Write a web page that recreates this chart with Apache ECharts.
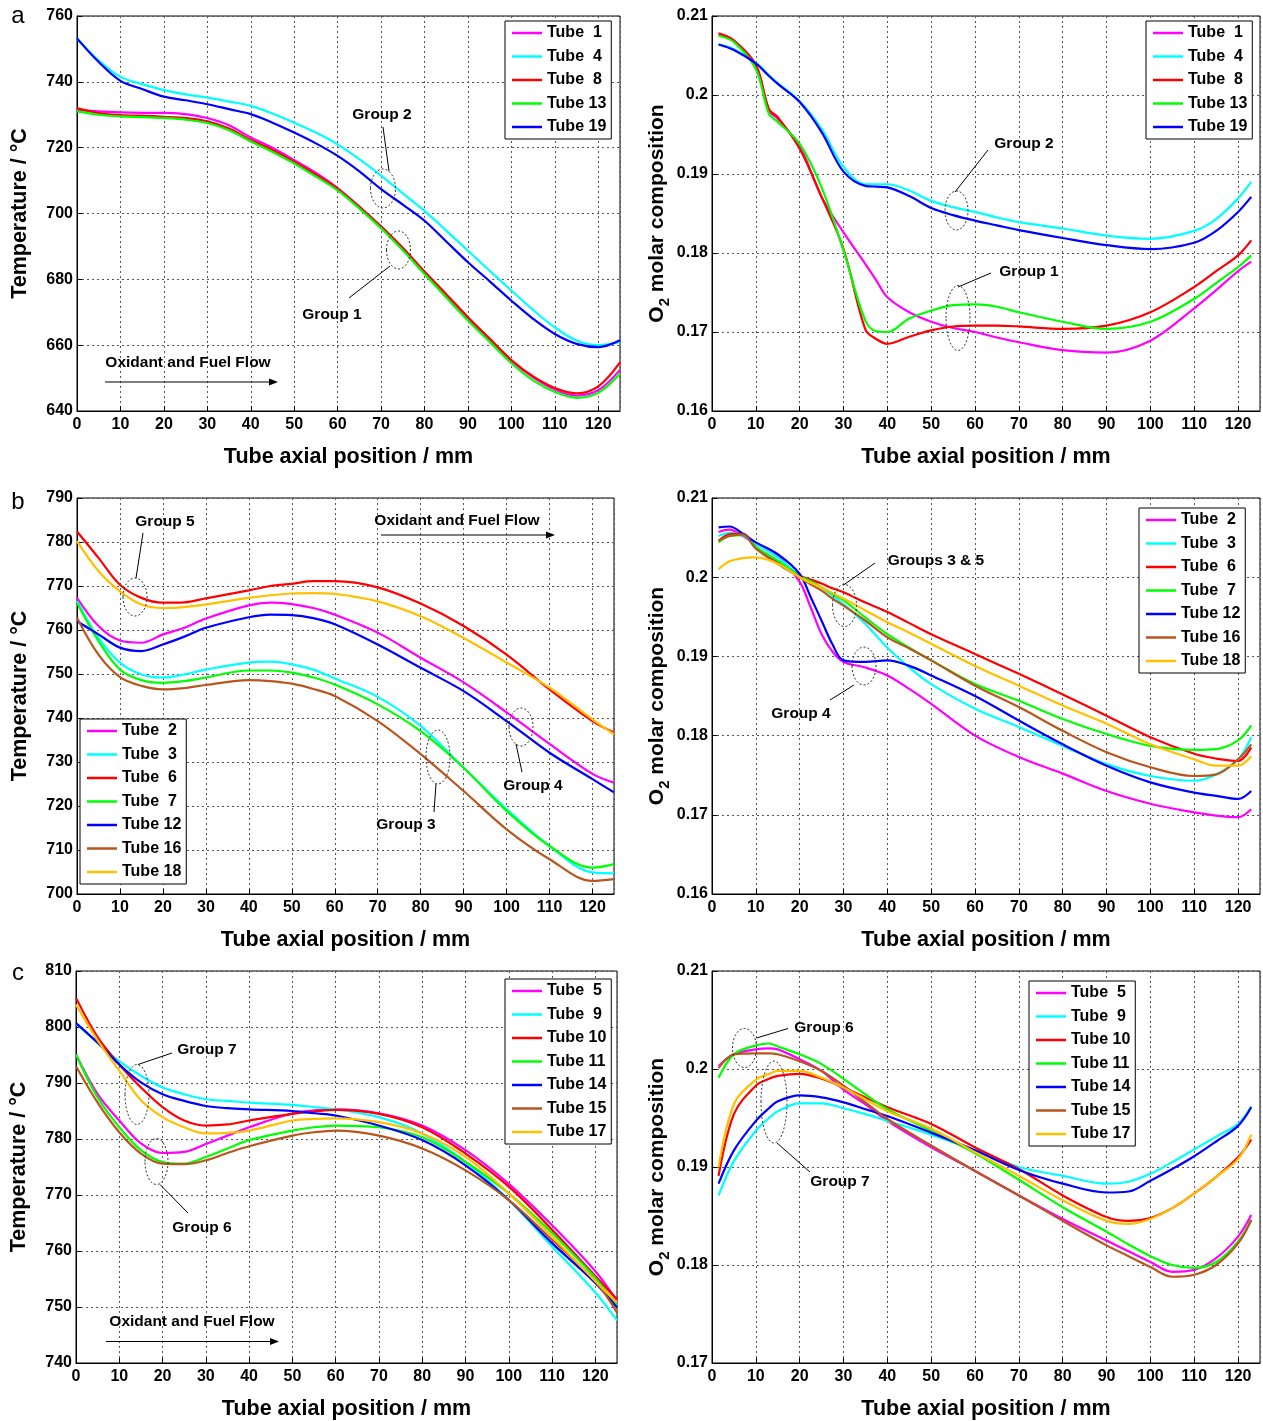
<!DOCTYPE html>
<html>
<head>
<meta charset="utf-8">
<script src="https://cdn.jsdelivr.net/npm/echarts@6/dist/echarts.min.js"></script>
<style>
  html, body { margin: 0; padding: 0; background: #fff; }
  #chart { width: 1263px; height: 1421px; }
</style>
</head>
<body>
<div id="chart"></div>
<script>
// ---- 数据 ----

// (a) 温度
const aTempX = [0, 5, 10, 15, 20, 25, 30, 35, 40, 45, 50, 55, 60, 65, 70, 75, 80, 85, 90, 95, 100, 105, 110, 115, 120, 125];
const aNames = ['Tube  1', 'Tube  4', 'Tube  8', 'Tube 13', 'Tube 19'];
const aColors = ['#ff00ff', '#00ffff', '#ff0000', '#00ff00', '#0000ff'];
const aTemp = [
  [731.5, 731, 730.7, 730.6, 730.6, 730.2, 729, 726.8, 723.1, 720, 716.2, 712.3, 707.7, 702, 696, 689.5, 682.3, 675.2, 668.2, 661.6, 655.2, 650.2, 646.5, 644.7, 646.3, 652.5],
  [753.2, 746.5, 741.5, 739.3, 737.5, 736.2, 735.2, 734, 732.7, 730.4, 727.6, 724.6, 721, 716.5, 711.5, 706.1, 700.8, 694.8, 688.7, 682.6, 676.6, 670.7, 665.4, 661.4, 660, 661],
  [732, 730.5, 729.9, 729.7, 729.4, 729, 728, 725.8, 722.3, 719.3, 715.7, 711.8, 707.5, 702, 696, 689.5, 682.3, 675.5, 668.5, 662, 655.5, 650.5, 647, 645.4, 647.5, 654.8],
  [731, 730, 729.5, 729.3, 729, 728.5, 727.5, 725.3, 721.9, 718.7, 715.2, 711.2, 707, 701.5, 695.5, 688.8, 681.6, 674.5, 667.5, 661, 654.5, 649.3, 645.8, 644, 645.5, 651.3],
  [753.2, 746, 740.3, 737.8, 735.5, 734.4, 733.2, 731.7, 730.2, 727.6, 724.6, 721.3, 717.5, 712.8, 707.4, 702.7, 697.8, 691.5, 685.2, 679.4, 673.5, 668, 663.4, 660.4, 659.4, 661.5]
];

// (a) O2
const aO2X = [1.5, 5, 10, 13, 15, 20, 25, 30, 35, 37.5, 40, 45, 50, 55, 60, 65, 70, 80, 90, 100, 110, 115, 120, 123];
const aO2 = [
  [0.2077, 0.2069, 0.2038, 0.198, 0.197, 0.1935, 0.1871, 0.1826, 0.1786, 0.1765, 0.1744, 0.1725, 0.1713, 0.1705, 0.17, 0.1693, 0.1687, 0.1677, 0.1674, 0.1689, 0.173, 0.1753, 0.1777, 0.1789],
  [0.2064, 0.2058, 0.2041, 0.2025, 0.2015, 0.1992, 0.1957, 0.1909, 0.1887, 0.1887, 0.1887, 0.1879, 0.1866, 0.1858, 0.1852, 0.1845, 0.1839, 0.1831, 0.1822, 0.1818, 0.1828, 0.1843, 0.1869, 0.189],
  [0.2078, 0.2069, 0.2038, 0.1982, 0.1972, 0.1932, 0.1871, 0.1805, 0.1703, 0.1691, 0.1685, 0.1694, 0.1702, 0.1707, 0.1708, 0.1708, 0.1707, 0.1704, 0.1708, 0.1725, 0.1757, 0.1777, 0.1797, 0.1816],
  [0.2075, 0.2067, 0.2033, 0.1976, 0.1966, 0.1938, 0.1883, 0.1803, 0.1714, 0.1701, 0.17, 0.1717, 0.1727, 0.1734, 0.1735, 0.1732, 0.1725, 0.1713, 0.1704, 0.1713, 0.1742, 0.1762, 0.1782, 0.1797],
  [0.2064, 0.2057, 0.204, 0.2024, 0.2014, 0.1991, 0.1953, 0.1903, 0.1885, 0.1884, 0.1883, 0.1872, 0.1857, 0.1848, 0.1841, 0.1835, 0.1829, 0.1819, 0.181, 0.1805, 0.1813, 0.1828, 0.1852, 0.1871]
];

// (b) 温度
const bTempX = [0, 5, 10, 15, 20, 25, 30, 40, 45, 50, 55, 60, 70, 80, 90, 100, 110, 120, 125];
const bNames = ['Tube  2', 'Tube  3', 'Tube  6', 'Tube  7', 'Tube 12', 'Tube 16', 'Tube 18'];
const bColors = ['#ff00ff', '#00ffff', '#ff0000', '#00ff00', '#0000ff', '#b8561e', '#ffc000'];
const bTemp = [
  [767.3, 760.9, 757.6, 757.1, 759, 760.5, 762.6, 765.6, 766.2, 765.9, 765, 763.5, 759.4, 753.7, 748.1, 741.3, 734.1, 727.3, 725.3],
  [766.6, 758.2, 752.6, 749.9, 749.2, 749.9, 751, 752.6, 752.8, 752.2, 751, 749, 744.8, 738.2, 728.7, 719.3, 710.9, 704.9, 704.7],
  [782.4, 776.4, 770.3, 767.3, 766.2, 766.3, 767.2, 769, 770, 770.5, 771.1, 771.1, 769.7, 766, 760.9, 754.4, 746.5, 739.3, 736.7],
  [766.2, 757.5, 751, 748.6, 748, 748.4, 749.2, 750.8, 750.8, 750.3, 749.2, 747.6, 743.1, 737, 728.7, 718.9, 710.9, 706, 706.8],
  [762, 759, 756, 755.2, 756.7, 758.5, 760.5, 762.9, 763.5, 763.4, 762.7, 761.3, 756.7, 751.4, 746.1, 739.3, 732.1, 726.1, 723.1],
  [762.8, 754.4, 749.3, 747.3, 746.5, 746.8, 747.5, 748.6, 748.4, 747.8, 746.6, 745, 739.3, 731.8, 723.4, 714.7, 707.9, 703, 703.4],
  [780.2, 773.4, 768.8, 765.8, 765, 765.2, 765.8, 767.3, 767.9, 768.3, 768.4, 768.2, 766.5, 763.1, 758.2, 752.6, 746.9, 739.7, 736.3]
];

// (b) O2
const bO2X = [1.5, 4, 7, 10, 15, 20, 22.5, 25, 27.5, 30, 35, 40, 45, 50, 60, 70, 80, 90, 100, 110, 115, 120, 123];
const bO2 = [
  [0.2057, 0.206, 0.2052, 0.2042, 0.2027, 0.1994, 0.1962, 0.1928, 0.1906, 0.1893, 0.1886, 0.1876, 0.1859, 0.184, 0.18, 0.1773, 0.1752, 0.173, 0.1714, 0.1703, 0.1699, 0.1697, 0.1707],
  [0.2052, 0.2056, 0.2053, 0.2042, 0.2025, 0.2002, 0.1995, 0.1987, 0.1977, 0.1966, 0.1941, 0.1911, 0.1886, 0.1865, 0.1834, 0.1811, 0.1787, 0.1764, 0.1749, 0.1743, 0.1751, 0.177, 0.1798],
  [0.2046, 0.2054, 0.2055, 0.2038, 0.2019, 0.2002, 0.1997, 0.1992, 0.1986, 0.1981, 0.1968, 0.1956, 0.1942, 0.1928, 0.1903, 0.1878, 0.1852, 0.1825, 0.1798, 0.1777, 0.1771, 0.1768, 0.1785],
  [0.2044, 0.2052, 0.2053, 0.2038, 0.2021, 0.2002, 0.1995, 0.1987, 0.1979, 0.1971, 0.1949, 0.1928, 0.1911, 0.1895, 0.1865, 0.1844, 0.1821, 0.1802, 0.1787, 0.1782, 0.1783, 0.1794, 0.1813],
  [0.2063, 0.2064, 0.2055, 0.2044, 0.2029, 0.2004, 0.1975, 0.1945, 0.1915, 0.1895, 0.1893, 0.1895, 0.1888, 0.1876, 0.185, 0.1819, 0.1789, 0.1762, 0.1741, 0.1728, 0.1724, 0.172, 0.173],
  [0.2046, 0.2052, 0.2054, 0.2036, 0.2017, 0.2, 0.1991, 0.1983, 0.1973, 0.1964, 0.1945, 0.1924, 0.191, 0.1895, 0.1863, 0.1836, 0.1806, 0.1779, 0.176, 0.1749, 0.1751, 0.177, 0.1789],
  [0.201, 0.202, 0.2024, 0.2025, 0.2017, 0.2, 0.1993, 0.1987, 0.198, 0.1973, 0.1958, 0.1943, 0.193, 0.1916, 0.1888, 0.1863, 0.1838, 0.1815, 0.1789, 0.177, 0.1762, 0.1762, 0.1774]
];

// (c) 温度
const cTempX = [0, 5, 10, 15, 20, 25, 30, 35, 40, 50, 55, 60, 70, 80, 90, 100, 110, 120, 125];
const cNames = ['Tube  5', 'Tube  9', 'Tube 10', 'Tube 11', 'Tube 14', 'Tube 15', 'Tube 17'];
const cColors = ['#ff00ff', '#00ffff', '#ff0000', '#00ff00', '#0000ff', '#b8561e', '#ffc000'];
const cTemp = [
  [795.1, 788, 783.3, 779.2, 777.5, 777.7, 779.1, 780.6, 782.1, 784.6, 785.1, 785.3, 784.6, 782.4, 778, 772, 764.6, 756.4, 751.1],
  [800.6, 797.2, 793.9, 791.3, 789.2, 788, 787.1, 786.8, 786.5, 786.1, 785.7, 785.3, 783.9, 781, 775.9, 769.1, 760.8, 752.6, 747.6],
  [805.2, 798.2, 793.3, 789.2, 785.7, 783.3, 782.4, 782.6, 783.3, 784.5, 784.9, 785.2, 784.5, 782.1, 777.4, 771.5, 763.8, 755.5, 751.4],
  [795.1, 787.4, 782.1, 778, 775.9, 775.6, 776.8, 778.3, 779.8, 781.5, 782.1, 782.4, 782.1, 780.3, 775.9, 770.3, 763.2, 755.2, 750.2],
  [800.7, 797.2, 793.3, 790.1, 788, 786.8, 785.9, 785.5, 785.3, 785, 784.6, 784.2, 782.4, 779.8, 775.3, 769.1, 761.4, 754.3, 749.9],
  [793, 786.5, 781.2, 777.4, 775.6, 775.5, 776.2, 777.5, 778.7, 780.6, 781.2, 781.5, 780.6, 778.3, 774.4, 769.1, 762, 754.6, 749],
  [804, 797.6, 792.2, 786.9, 783.9, 782.1, 781, 781.1, 781.5, 783.3, 783.6, 783.7, 783, 781, 776.8, 770.3, 762.6, 754.6, 750.8]
];

// (c) O2
const cO2X = [1.5, 5, 10, 13, 15, 20, 25, 30, 35, 40, 50, 60, 70, 80, 90, 95, 100, 105, 110, 115, 120, 123];
const cO2 = [
  [0.2003, 0.2015, 0.202, 0.2021, 0.202, 0.201, 0.1998, 0.1979, 0.1964, 0.1947, 0.192, 0.1896, 0.1871, 0.1847, 0.1825, 0.1814, 0.1803, 0.1793, 0.1795, 0.1807, 0.1829, 0.1851],
  [0.1871, 0.1906, 0.1937, 0.195, 0.1957, 0.1965, 0.1965, 0.196, 0.1954, 0.1947, 0.1933, 0.1917, 0.19, 0.1891, 0.1883, 0.1885, 0.1893, 0.1905, 0.1918, 0.1931, 0.1944, 0.1962],
  [0.1891, 0.1954, 0.1983, 0.199, 0.1993, 0.1995, 0.199, 0.1981, 0.1971, 0.1961, 0.1944, 0.192, 0.1898, 0.1871, 0.1849, 0.1845, 0.1848, 0.1858, 0.1873, 0.189, 0.191, 0.1928],
  [0.1991, 0.2015, 0.2024, 0.2026, 0.2023, 0.2015, 0.2005, 0.199, 0.1974, 0.1959, 0.1937, 0.1914, 0.1887, 0.1859, 0.1834, 0.1821, 0.1809, 0.18, 0.1797, 0.1803, 0.1824, 0.1846],
  [0.1883, 0.1917, 0.1947, 0.196, 0.1967, 0.1973, 0.1971, 0.1966, 0.1959, 0.1952, 0.1935, 0.1917, 0.1897, 0.1883, 0.1874, 0.1875, 0.1886, 0.1898, 0.1911, 0.1926, 0.1942, 0.1961],
  [0.2001, 0.2015, 0.2016, 0.2016, 0.2015, 0.2008, 0.1998, 0.1983, 0.1966, 0.1949, 0.1922, 0.1896, 0.1871, 0.1845, 0.182, 0.1809, 0.1798, 0.1788, 0.179, 0.18, 0.1822, 0.1846],
  [0.19, 0.1964, 0.1989, 0.1995, 0.1998, 0.1998, 0.1991, 0.1981, 0.1969, 0.1957, 0.1939, 0.1915, 0.1891, 0.1866, 0.1845, 0.1842, 0.1847, 0.1858, 0.1873, 0.189, 0.1908, 0.1933]
];

// ---- 样式 ----
const FONT = '"Liberation Sans", Arial, sans-serif';

// 每个子图: 网格位置, y 轴范围, 数据
const panels = [
  { grid: { left: 77, top: 16, width: 543, height: 395 }, y: [640, 760, 20], x: aTempX, vals: aTemp, names: aNames, colors: aColors, o2: false, legend: { left: 505, top: 21 } },
  { grid: { left: 712, top: 16, width: 548, height: 395 }, y: [0.16, 0.21, 0.01], x: aO2X, vals: aO2, names: aNames, colors: aColors, o2: true, legend: { left: 1146, top: 21 } },
  { grid: { left: 77, top: 498, width: 537, height: 396 }, y: [700, 790, 10], x: bTempX, vals: bTemp, names: bNames, colors: bColors, o2: false, legend: { left: 80, top: 719 } },
  { grid: { left: 712, top: 498, width: 548, height: 396 }, y: [0.16, 0.21, 0.01], x: bO2X, vals: bO2, names: bNames, colors: bColors, o2: true, legend: { left: 1139, top: 508 } },
  { grid: { left: 76, top: 971, width: 541, height: 395 }, y: [740, 810, 10], x: cTempX, vals: cTemp, names: cNames, colors: cColors, o2: false, legend: { left: 505, top: 979 } },
  { grid: { left: 712, top: 971, width: 548, height: 395 }, y: [0.17, 0.21, 0.01], x: cO2X, vals: cO2, names: cNames, colors: cColors, o2: true, legend: { left: 1029, top: 981 } }
];

const splitLine = { show: true, lineStyle: { type: [2, 3], color: '#555', width: 1 } };
const axisLabel = { color: '#000', fontSize: 16, fontWeight: 'bold', fontFamily: FONT };

const grids = [];
const xAxes = [];
const yAxes = [];
const legends = [];
const series = [];

panels.forEach((p, i) => {
  grids.push({ ...p.grid, show: true, borderColor: '#000', borderWidth: 1, backgroundColor: 'transparent' });

  xAxes.push({
    type: 'value', gridIndex: i, min: 0, max: 125, interval: 10,
    name: 'Tube axial position / mm', nameLocation: 'middle', nameGap: 35,
    nameTextStyle: { color: '#000', fontSize: 21.5, fontWeight: 'bold', fontFamily: FONT },
    axisLine: { show: true, onZero: false, lineStyle: { color: '#000' } },
    axisTick: { show: true, inside: true, length: 5, lineStyle: { color: '#000' } },
    axisLabel: { ...axisLabel, margin: 6, showMaxLabel: false },
    splitLine
  });

  yAxes.push({
    type: 'value', gridIndex: i, min: p.y[0], max: p.y[1], interval: p.y[2],
    name: p.o2 ? '{a|O}{b|2}{a| molar composition}' : 'Temperature / °C',
    nameLocation: 'middle', nameGap: p.o2 ? 40 : 46,
    nameTextStyle: p.o2 ? {
      rich: {
        a: { fontSize: 21, fontWeight: 'bold', fontFamily: FONT, color: '#000', lineHeight: 30 },
        b: { fontSize: 15, fontWeight: 'bold', fontFamily: FONT, color: '#000', lineHeight: 16, verticalAlign: 'bottom' }
      }
    } : { color: '#000', fontSize: 21.5, fontWeight: 'bold', fontFamily: FONT },
    axisLine: { show: true, lineStyle: { color: '#000' } },
    axisTick: { show: true, inside: true, length: 5, lineStyle: { color: '#000' } },
    axisLabel: { ...axisLabel, margin: 4 },
    splitLine
  });

  legends.push({
    left: p.legend.left, top: p.legend.top, orient: 'vertical',
    data: p.names, selectedMode: false,
    icon: 'rect', itemWidth: 30, itemHeight: 2.5, itemGap: 7.5,
    padding: [4, 5, 4, 7],
    backgroundColor: '#fff', borderColor: '#000', borderWidth: 1,
    textStyle: { color: '#000', fontSize: 16, fontWeight: 'bold', fontFamily: FONT, lineHeight: 16 }
  });

  p.names.forEach((name, k) => {
    series.push({
      type: 'line', name, xAxisIndex: i, yAxisIndex: i,
      data: p.x.map((x, j) => [x, p.vals[k][j]]),
      smooth: 0.35, showSymbol: false, color: p.colors[k],
      lineStyle: { width: 2.2, color: p.colors[k] },
      z: 3
    });
  });
});

// ---- 标注 (像素坐标) ----
const annoText = (x, y, text) => ({
  type: 'text', x, y, z: 10,
  style: { text, fill: '#000', font: `bold 15.5px ${FONT}`, textAlign: 'center', textVerticalAlign: 'middle' }
});
const ellipse = (cx, cy, rx, ry) => ({
  type: 'ellipse', z: 10,
  shape: { cx, cy, rx, ry },
  style: { fill: null, stroke: '#333', lineWidth: 1, lineDash: [2, 2] }
});
const leader = (x1, y1, x2, y2) => ({
  type: 'line', z: 10, shape: { x1, y1, x2, y2 }, style: { stroke: '#000', lineWidth: 1 }
});
const arrow = (x1, x2, y) => ([
  { type: 'line', z: 10, shape: { x1, y1: y, x2: x2 - 8, y2: y }, style: { stroke: '#000', lineWidth: 1.2 } },
  { type: 'polygon', z: 10, shape: { points: [[x2 - 9, y - 3.5], [x2, y], [x2 - 9, y + 3.5]] }, style: { fill: '#000' } }
]);
const panelLetter = (x, y, text) => ({
  type: 'text', x, y, z: 10,
  style: { text, fill: '#000', font: `24px ${FONT}`, textAlign: 'center', textVerticalAlign: 'middle' }
});

const graphic = [
  panelLetter(18, 16, 'a'), panelLetter(18, 502, 'b'), panelLetter(18, 973, 'c'),

  // (a) 温度
  annoText(382, 115, 'Group 2'), ellipse(383, 188.5, 12.5, 19.5), leader(389, 171, 383, 127),
  annoText(332, 315, 'Group 1'), ellipse(398.5, 250, 12, 19), leader(390, 266, 349, 298),
  annoText(188, 363, 'Oxidant and Fuel Flow'), ...arrow(105, 278, 382),

  // (a) O2
  annoText(1024, 144, 'Group 2'), ellipse(956.5, 210.5, 11.5, 19.5), leader(955, 192, 988, 150),
  annoText(1029, 272, 'Group 1'), ellipse(958, 318, 12, 32.5), leader(958, 287, 991, 273),

  // (b) 温度
  annoText(165, 522, 'Group 5'), ellipse(135, 597, 12, 19), leader(136, 578, 143, 533),
  annoText(457, 521, 'Oxidant and Fuel Flow'), ...arrow(381, 555, 535),
  annoText(406, 825, 'Group 3'), ellipse(438, 757, 12, 27), leader(436, 784, 434, 812),
  annoText(533, 786, 'Group 4'), ellipse(521, 727, 12, 19), leader(516, 744, 522, 772),

  // (b) O2
  annoText(936, 561, 'Groups 3 & 5'), ellipse(844.5, 605.5, 12, 21), leader(843.5, 585, 875, 563),
  annoText(801, 714, 'Group 4'), ellipse(864, 666, 12, 19), leader(854, 685, 830, 700),

  // (c) 温度
  annoText(207, 1050, 'Group 7'), ellipse(137, 1094.5, 12, 30), leader(138, 1064.5, 172, 1053),
  annoText(202, 1228, 'Group 6'), ellipse(156.5, 1161.5, 11.5, 23), leader(160, 1184.5, 188, 1213),
  annoText(192, 1322, 'Oxidant and Fuel Flow'), ...arrow(106, 279, 1341.5),

  // (c) O2
  annoText(824, 1028, 'Group 6'), ellipse(744.5, 1048, 12, 19.5), leader(756.5, 1038, 788, 1028.5),
  annoText(840, 1181.5, 'Group 7'), ellipse(774, 1102, 13, 41), leader(777, 1143, 810, 1172)
];

const chart = echarts.init(document.getElementById('chart'));
chart.setOption({
  animation: false,
  backgroundColor: '#fff',
  grid: grids,
  xAxis: xAxes,
  yAxis: yAxes,
  legend: legends,
  series,
  graphic
});
</script>
</body>
</html>
